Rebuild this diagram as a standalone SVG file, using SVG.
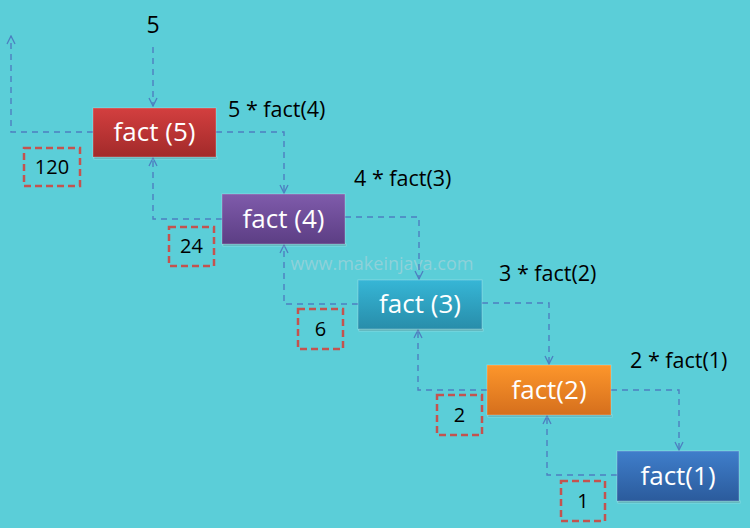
<svg xmlns="http://www.w3.org/2000/svg" width="750" height="528" viewBox="0 0 750 528">
<defs>
<linearGradient id="gRed" x1="0" y1="0" x2="0" y2="1"><stop offset="0" stop-color="#d33f3f"/><stop offset="1" stop-color="#a22a2a"/></linearGradient>
<linearGradient id="gPur" x1="0" y1="0" x2="0" y2="1"><stop offset="0" stop-color="#7f5bab"/><stop offset="1" stop-color="#5c3e84"/></linearGradient>
<linearGradient id="gTeal" x1="0" y1="0" x2="0" y2="1"><stop offset="0" stop-color="#36b6d6"/><stop offset="1" stop-color="#288daa"/></linearGradient>
<linearGradient id="gOra" x1="0" y1="0" x2="0" y2="1"><stop offset="0" stop-color="#fd962b"/><stop offset="1" stop-color="#d56f1d"/></linearGradient>
<linearGradient id="gBlu" x1="0" y1="0" x2="0" y2="1"><stop offset="0" stop-color="#3f7ecb"/><stop offset="1" stop-color="#2b5b9c"/></linearGradient>
<marker id="arr" viewBox="0 0 10 10" refX="9" refY="5" markerWidth="10" markerHeight="10" markerUnits="userSpaceOnUse" orient="auto">
<path d="M1,1 L9,5 L1,9" fill="none" stroke="#4d7fc0" stroke-width="1.3"/>
</marker>
</defs>
<style>
.conn{fill:none;stroke:#4d7fc0;stroke-width:1.4;stroke-dasharray:6,5;marker-end:url(#arr)}
.node rect{stroke:#ffffff;stroke-opacity:0.25;stroke-width:1}
.shadow{fill:#000000;fill-opacity:0.15}
.nt{font-family:"Open Sans","Liberation Sans",sans-serif;font-size:26px;fill:#ffffff;text-anchor:middle}
.lbl{font-family:"Open Sans","Liberation Sans",sans-serif;font-size:21.5px;fill:#000000}
.res rect{fill:none;stroke:#c4534f;stroke-width:2.5;stroke-dasharray:7,4}
.res text{font-family:"Open Sans","Liberation Sans",sans-serif;font-size:20px;fill:#000000;text-anchor:middle}
</style>
<rect width="750" height="528" fill="#5bced8"/>
<text x="382" y="270" font-family="Open Sans, Liberation Sans, sans-serif" font-size="18" fill="#f4d8dc" fill-opacity="0.35" text-anchor="middle">www.makeinjava.com</text>
<g id="connectors">
<path class="conn" d="M153,47 V106"/>
<path class="conn" d="M93,132 H11 V36"/>
<path class="conn" d="M216,132 H284 V193"/>
<path class="conn" d="M222,219 H153 V158"/>
<path class="conn" d="M345,217 H419 V279"/>
<path class="conn" d="M358,304 H284 V245"/>
<path class="conn" d="M482,303 H549 V364"/>
<path class="conn" d="M487,390 H418 V330"/>
<path class="conn" d="M611,390 H679 V450"/>
<path class="conn" d="M617,475 H547 V416"/>
</g>
<text class="lbl" x="153" y="33" text-anchor="middle" style="font-size:23px">5</text>
<text class="lbl" x="228" y="117">5 * fact(4)</text>
<text class="lbl" x="354" y="186">4 * fact(3)</text>
<text class="lbl" x="499" y="281">3 * fact(2)</text>
<text class="lbl" x="630" y="368">2 * fact(1)</text>
<g id="fact5" class="node"><rect class="shadow" x="94" y="157" width="123" height="2"/><rect x="93" y="108" width="123" height="49" fill="url(#gRed)"/><text class="nt" x="154.5" y="141">fact (5)</text></g>
<g id="fact4" class="node"><rect class="shadow" x="223" y="244" width="123" height="2"/><rect x="222" y="194" width="123" height="50" fill="url(#gPur)"/><text class="nt" x="283.5" y="228">fact (4)</text></g>
<g id="fact3" class="node"><rect class="shadow" x="359" y="329" width="124" height="2"/><rect x="358" y="280" width="124" height="49" fill="url(#gTeal)"/><text class="nt" x="420" y="313">fact (3)</text></g>
<g id="fact2" class="node"><rect class="shadow" x="488" y="415" width="124" height="2"/><rect x="487" y="365" width="124" height="50" fill="url(#gOra)"/><text class="nt" x="549" y="399">fact(2)</text></g>
<g id="fact1" class="node"><rect class="shadow" x="618" y="501" width="122" height="2"/><rect x="617" y="451" width="122" height="50" fill="url(#gBlu)"/><text class="nt" x="678" y="485">fact(1)</text></g>
<g id="res120" class="res"><rect x="24" y="148" width="56" height="38"/><text x="52" y="174">120</text></g>
<g id="res24" class="res"><rect x="169" y="227" width="45" height="39"/><text x="191.5" y="253">24</text></g>
<g id="res6" class="res"><rect x="298" y="309" width="45" height="40"/><text x="320.5" y="336">6</text></g>
<g id="res2" class="res"><rect x="437" y="395" width="45" height="40"/><text x="459.5" y="422">2</text></g>
<g id="res1" class="res"><rect x="561" y="481" width="44" height="40"/><text x="583" y="508">1</text></g>
</svg>
